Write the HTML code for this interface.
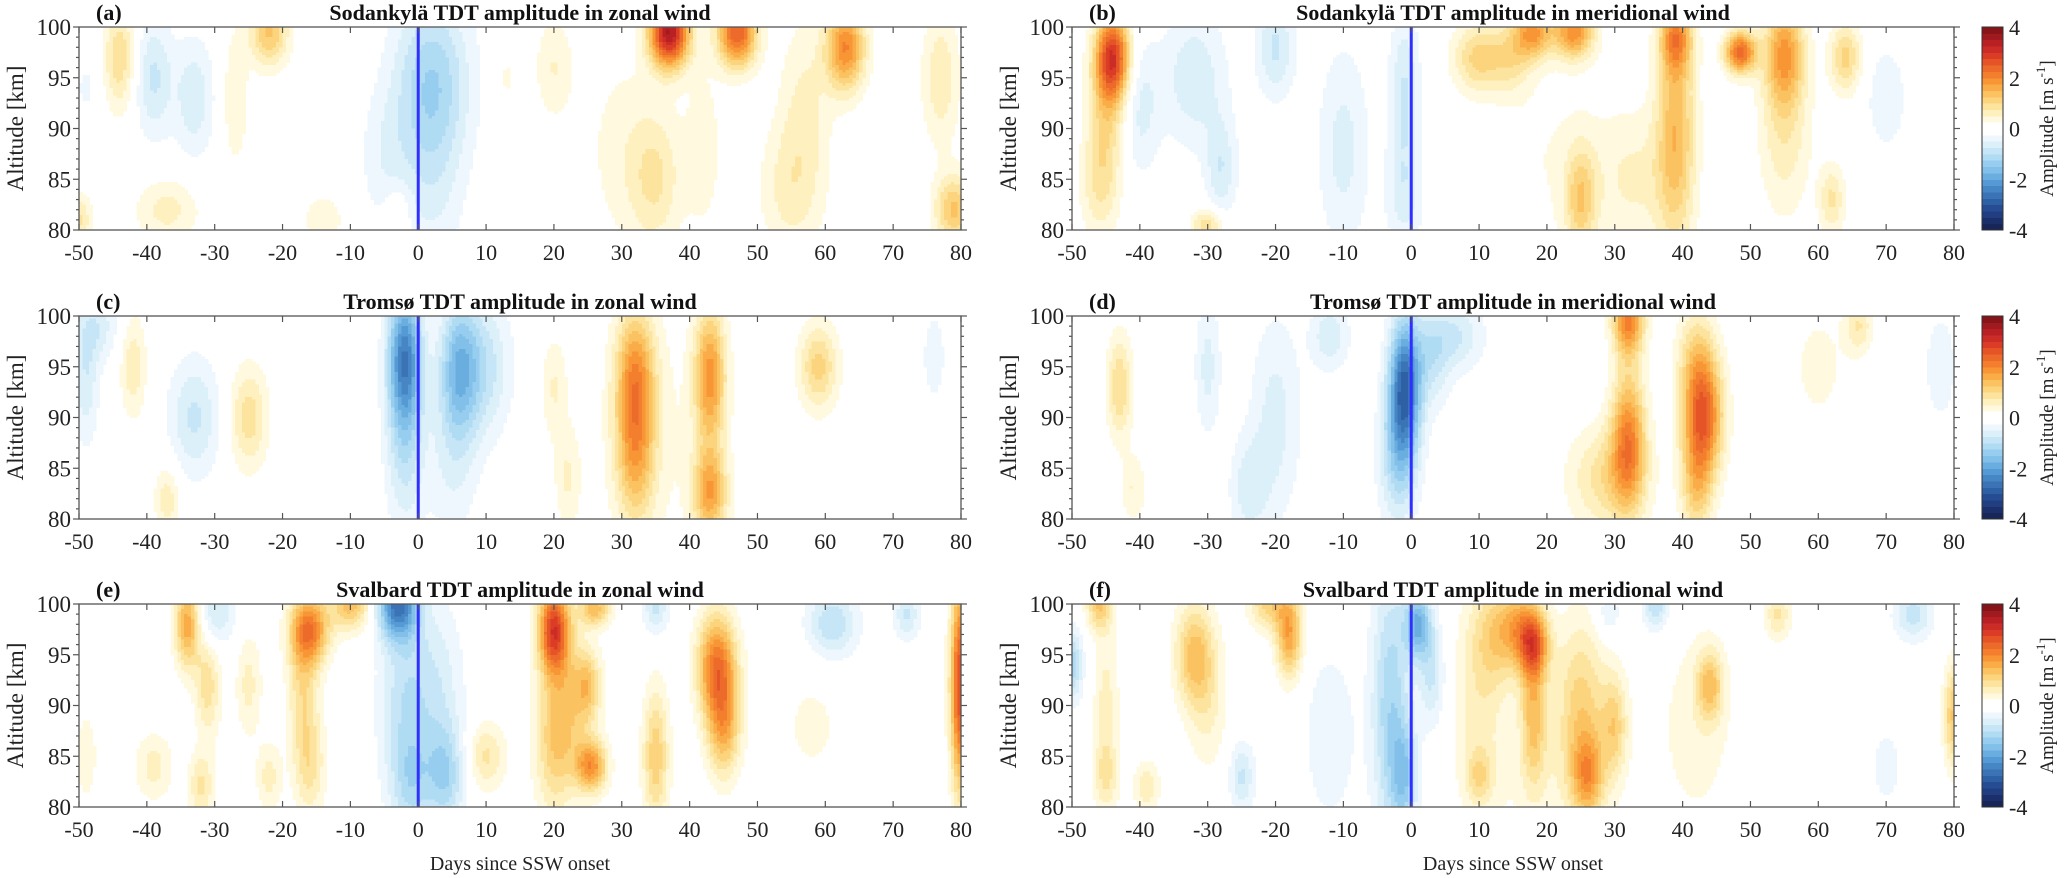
<!DOCTYPE html>
<html><head><meta charset="utf-8">
<style>
html,body{margin:0;padding:0;background:#fff;}
svg{display:block;font-family:"Liberation Serif",serif;}
</style></head>
<body>
<svg id="fig" width="2067" height="878" viewBox="0 0 2067 878" xmlns="http://www.w3.org/2000/svg"></svg>
<script>
// ---- data: blobs [day, altitude, amplitude, daySpread, altSpread] ----
const blobsA = [[-44,97,1.0,1.2,3],[-39,95,-0.8,1.5,3.5],[-33,93,-0.7,1.5,3.5],[-22,99.5,1.3,1.5,2],[-27,93,0.5,1,4],[-37,82,0.6,2.5,2],[-50,81,0.8,1,1.5],[-5,87,-0.4,2,4],[2,95,-1.1,3,5],[2,85,-0.5,2.5,6],[37,99.5,3.5,1.5,2],[47,99.5,2.5,1.5,2],[63,98,2.0,1.5,2.5],[35,85,0.7,2,4],[30,88,0.35,3,6],[55,84,0.6,2.5,4],[57,93,0.5,2,5],[79,82,1.3,1.5,2],[77,95,0.7,1.5,4],[20,96,0.5,1.5,3],[42,88,0.4,1.5,5],[13,95,0.3,1,2],[-3,82,0.4,1,1.5],[-14,81,0.5,1.5,1.5],[-49,94,-0.3,1,2]];
const blobsB = [[-44,97,2.8,1.3,2.5],[-45,91,0.9,1.5,4],[-46,84,0.6,1.5,3],[-30,80.5,1.0,1.2,1],[-40,92,-0.6,1.5,4],[-32,95,-0.7,2.5,4],[-28,86,-0.7,1.2,3],[-20,98,-0.8,1.5,3],[-10,88,-0.6,2,6],[-1,93,-0.8,1.2,5],[-1,83,-0.5,1.5,3],[10,97,1.1,2,2],[15,97,0.7,1.5,2],[18,99.5,1.7,1.5,1.5],[24,99.5,1.9,1.5,1.5],[25,83,1.1,1.2,3],[39,90,1.4,1.5,7],[39,99,1.5,1.2,2],[33,85,0.5,3,4],[48.5,97.5,2.4,1.2,1.2],[55,97.5,1.6,1.5,3],[55,90,0.7,2,5],[64,97,1.1,1.2,2],[62,83,0.8,1,2],[70,93,-0.5,1.5,3],[21,87,0.25,5,6]];
const blobsC = [[-2,96,-2.3,1.3,4],[-2,87,-0.8,1.5,5],[6,95,-1.5,1.5,4],[10,95,-0.8,2,4],[5,86,-0.5,2,5],[32,94,1.7,1.5,4],[32,86,1.25,1.5,4],[43,94,1.8,1.2,4],[43,82.5,1.6,1.3,2.5],[59,95,1.1,1.5,2.5],[-42,95,0.7,1,3],[-33,90,-0.8,2,3.5],[-25,90,0.9,1.5,3],[-37,82,0.7,1,2],[-49,94,-0.7,1,4],[-47,99,-0.6,1.5,2],[20,93,0.5,1,3],[22,84,0.5,1,3],[76,96,-0.4,1,3],[35,88,0.25,5,8]];
const blobsD = [[-1,93,-2.6,1.2,4],[-2,86,-1.0,1.5,4],[-43,93,1.0,1,3],[-41,83,0.5,1,2],[-30,95,-0.6,1,4],[-20,90,-0.6,2,6],[-24,83,-0.6,1.5,3],[-12,98,-0.7,1.5,2],[3,96,-0.8,1.5,3],[7,98,-0.7,2,2],[32,88,1.9,1.3,4],[32,99.5,2.0,1.2,2],[29,84,0.9,3,3],[43,90,2.4,1.5,3.5],[42,83,1.0,1.2,3],[42,96,0.8,1.5,3],[66,99,0.7,1,1.5],[60,95,0.3,3,5],[78,95,-0.5,1.2,3]];
const blobsE = [[-34,98,1.7,1,2.5],[-16,97.5,2.0,1.5,2],[-10,100,1.4,1.5,1.5],[-17,92,0.9,1.2,4],[-16,84,0.8,1.2,3],[-3,100,-2.4,1.5,2],[-2,90,-0.9,2,6],[-1,82,-0.7,1.5,3],[4,83,-1.1,1.5,3],[3,92,-0.6,2,5],[-31,92,0.9,1,3],[-32,82,0.8,1,2],[-39,84,0.6,1.5,2],[-22,83,0.6,1,2],[-25,92,0.6,1,3],[-30,99,-0.8,1.5,2],[20,97.5,2.8,1.2,2.5],[22,90,1.0,2,4],[20,85,0.8,1.5,4],[25.5,84,1.8,1.2,1.5],[25,92,1.0,1,2],[26,99.5,1.4,1.2,1],[35,85,1.2,1,4],[10,85,0.8,1.5,2],[44,94,2.1,1.5,3],[45,88,1.5,1.3,3],[35,99.5,-0.8,1,1.5],[61,98,-1.0,2,2],[72,99,-0.8,1,1.5],[80,92,2.8,0.8,6],[58,88,0.3,3,4],[-49,85,0.4,1,3]];
const blobsF = [[-50,94,-1.2,0.8,2],[-46,100,1.2,1,1.5],[-45,90,0.6,1,5],[-45,83,0.6,1,2],[-39,82,0.7,1,1.5],[-32,95,1.3,1.5,3],[-30,90,0.5,1.5,4],[-18,97,1.7,1,2.5],[-21,100,1.1,1.5,1.5],[-25,83,-0.8,1,2],[-12,87,-0.5,2,5],[-3,90,-1.2,1.5,8],[-1,83,-1.1,1,3],[1,98,-1.7,1,2],[3,93,-0.8,1,3],[13,97,1.0,2,3],[18,96,2.0,1.2,2],[18,89,1.3,1,4],[16,98,0.9,1.5,2],[10,90,0.6,2,6],[10,83,0.7,1,1.5],[25,90,1.1,2,5],[26,83,1.4,1.2,2.5],[30,88,1.0,1,3],[36,100,-1.0,1,1.5],[29,99,-0.5,1,1.5],[44,92,1.2,1,2],[42,88,0.4,3,6],[54,99,0.8,1,1.5],[74,99,-0.9,1.5,1.5],[70,84,-0.3,2,4],[80,89,1.3,0.8,3],[20,82,0.25,5,4]];
const xTicks = [-50,-40,-30,-20,-10,0,10,20,30,40,50,60,70,80];
const yTicks = [80,85,90,95,100];
const cbTicks = [-4,-2,0,2,4];
const titles = ["Sodankylä TDT amplitude in zonal wind","Sodankylä TDT amplitude in meridional wind","Tromsø TDT amplitude in zonal wind","Tromsø TDT amplitude in meridional wind","Svalbard TDT amplitude in zonal wind","Svalbard TDT amplitude in meridional wind"];
const letters = ["(a)","(b)","(c)","(d)","(e)","(f)"];

const posColors = ["#ffffff","#fff9e0","#fff0bf","#fde49e","#fcd47e","#fbc262","#faac48","#f89636","#f27e2e","#ec6a2a","#e45427","#da3c26","#cc2c26","#b82024","#a01a20","#861418"];
const negColors = ["#ffffff","#eef7fd","#dcf0fa","#c6e6f7","#afdbf3","#97cef0","#82c0ea","#6aaee0","#569ad5","#4686c5","#3a73b6","#2e60a5","#264c93","#203e80","#1b306b","#172558"];
const DAY_SPREAD=1.35, ALT_SPREAD=1.2;
function colorFor(v){
  const i=Math.min(15,Math.floor(Math.abs(v)/0.25));
  return v>=0?posColors[i]:negColors[i];
}
const NS="http://www.w3.org/2000/svg";
const svg=document.getElementById('fig');
function mk(tag,attrs,parent){const e=document.createElementNS(NS,tag);for(const k in attrs)e.setAttribute(k,attrs[k]);(parent||svg).appendChild(e);return e;}

const PW=882, PH=203;
const panels=[{x:79,y:27,b:blobsA},{x:1072,y:27,b:blobsB},{x:79,y:316,b:blobsC},{x:1072,y:316,b:blobsD},{x:79,y:604,b:blobsE},{x:1072,y:604,b:blobsF}];
panels.forEach((p,pi)=>{
  const g=mk('g',{});
  
  
  const xs=d=>p.x+(d+50)/130*PW;
  const ys=a=>p.y+(100-a)/20*PH;
  const field=(d,a)=>{let s=0;for(const b of p.b){const u=(d-b[0])/(b[3]*DAY_SPREAD),w=(a-b[1])/(b[4]*ALT_SPREAD);s+=b[2]*Math.exp(-0.5*(u*u+w*w));}return s;};
  const cg=mk('g',{'shape-rendering':'crispEdges'},g);
  
  
  const dd=0.5, da=0.25;
  for(let a=100;a>80-1e-9;a-=da){
    const aTop=a, aBot=Math.max(80,a-da), aMid=(aTop+aBot)/2;
    let runStart=-50, runCol=null;
    for(let d=-50;d<=80+1e-9;d+=dd){
      const dEnd=Math.min(80,d+dd);
      const c= d<80 ? colorFor(field((d+dEnd)/2,aMid)) : null;
      if(c!==runCol){
        if(runCol && runCol!=='#ffffff'){
          const r=mk('rect',{x:xs(runStart).toFixed(2),y:ys(aTop).toFixed(2),width:(xs(d)-xs(runStart)+0.6).toFixed(2),height:(ys(aBot)-ys(aTop)+0.6).toFixed(2),fill:runCol},cg);
          
          
        }
        runStart=d; runCol=c;
      }
    }
  }
  const ol=mk('line',{x1:xs(0),x2:xs(0),y1:p.y,y2:p.y+PH,stroke:'#2f2fff','stroke-width':3},g);
  
  
  const fr=mk('rect',{x:p.x,y:p.y,width:PW,height:PH,fill:'none',stroke:'#555','stroke-width':1.3},g);
  
  
  xTicks.forEach(t=>{
    const X=xs(t);
    mk('line',{x1:X,x2:X,y1:p.y+PH,y2:p.y+PH-6,stroke:'#555','stroke-width':1.2},g);
    mk('line',{x1:X,x2:X,y1:p.y,y2:p.y+6,stroke:'#555','stroke-width':1.2},g);
    const tx=mk('text',{x:X,y:p.y+PH+30,'font-size':22,'text-anchor':'middle',fill:'#222'},g);
    tx.textContent=t;
    
    
  });
  for(let a=80;a<=100;a++){
    const Y=ys(a); const major=a%5===0;
    mk('line',{x1:p.x,x2:p.x-(major?6:3),y1:Y,y2:Y,stroke:'#555','stroke-width':1.2},g);
    mk('line',{x1:p.x+PW,x2:p.x+PW+(major?6:3),y1:Y,y2:Y,stroke:'#555','stroke-width':1.2},g);
  }
  yTicks.forEach(t=>{
    const ty=mk('text',{x:p.x-8,y:ys(t)+8,'font-size':23,'text-anchor':'end',fill:'#222'},g);
    ty.textContent=t;
    
    
  });
  const yl=mk('text',{x:0,y:0,'font-size':23,'text-anchor':'middle',fill:'#222',transform:`translate(${p.x-56},${p.y+PH/2}) rotate(-90)`},g);
  yl.textContent='Altitude [km]';
  
  
  const tt=mk('text',{x:p.x+PW/2,y:p.y-7,'font-size':22,'font-weight':'bold','text-anchor':'middle',fill:'#111'},g);
  tt.textContent=titles[pi];
  
  
  const lt=mk('text',{x:p.x+17,y:p.y-7,'font-size':22,'font-weight':'bold',fill:'#111'},g);
  lt.textContent=letters[pi];
  
  
  if(pi>=4){
    const xl=mk('text',{x:p.x+PW/2,y:870,'font-size':20,'text-anchor':'middle',fill:'#222'},g);
    xl.textContent='Days since SSW onset';
    
    
  }
  if(pi%2===1){
    const cb=mk('g',{'shape-rendering':'crispEdges'});
    
    
    const cx=1982,cw=21;
    const cy=v=>p.y+(4-v)/8*PH;
    for(let k=0;k<32;k++){
      const lo=-4+k*0.25, hi=lo+0.25;
      const r=mk('rect',{x:cx,y:cy(hi),width:cw,height:cy(lo)-cy(hi)+0.5,fill:colorFor((lo+hi)/2)},cb);
      
      
    }
    mk('rect',{x:cx,y:p.y,width:cw,height:PH,fill:'none',stroke:'#333','stroke-width':1},cb);
    cbTicks.forEach(t=>{
      const tl=mk('text',{x:cx+cw+6,y:cy(t)+8,'font-size':22,fill:'#222'},cb);
      tl.textContent=t;
      
      
    });
    const cl=mk('text',{x:0,y:0,'font-size':19,'text-anchor':'middle',fill:'#222',transform:`translate(2053,${p.y+PH/2}) rotate(-90)`},cb);
    cl.innerHTML='Amplitude [m s<tspan dy="-8" font-size="13">-1</tspan><tspan dy="8">]</tspan>';
    
    
  }
});
</script>
</body></html>
